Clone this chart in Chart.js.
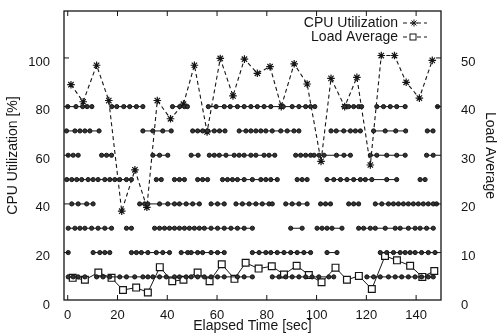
<!DOCTYPE html>
<html>
<head>
<meta charset="utf-8">
<script src="https://cdn.jsdelivr.net/npm/chart.js@4.4.0/dist/chart.umd.min.js"></script>
<style>
  html, body { margin: 0; padding: 0; background: #fff; }
  #chart { display: block; }
</style>
</head>
<body>
<canvas id="chart" width="502" height="336"></canvas>
<script>
// CPU utilization samples (left axis, %)
const cpuTime = [1.3, 6.2, 11.6, 16.5, 21.7, 27, 31.8, 36, 41.3, 46.5, 50.9, 56, 61.3, 66.4, 71, 76.2, 81.3, 85.8, 91, 96.2, 101.8, 105.8, 111.3, 116.2, 121.6, 126, 131.3, 136, 141.3, 146.5];
const cpuUtil = [89, 82, 97, 82.5, 37, 54, 38.6, 82.5, 75, 81, 97, 69.6, 99.8, 84.4, 99.5, 93.7, 96.4, 80, 97.6, 89.3, 57.5, 91.6, 80, 92, 56, 101, 101, 90, 83.5, 99];

// load average samples (right axis)
const loadTime = [2, 6.9, 12.3, 17.6, 22.2, 27.5, 32.2, 37, 42, 46.5, 52.2, 57, 61.9, 67, 71.5, 76.7, 82, 86.9, 92, 96.9, 102, 107.6, 112.2, 117, 122.2, 127.5, 132.3, 137.6, 142.5, 147.3];
const loadAvg = [4.8, 4.4, 5.9, 4.8, 2.3, 2.8, 1.8, 7.0, 4.1, 4.4, 5.9, 4.1, 7.6, 4.6, 7.9, 6.7, 7.2, 5.5, 7.3, 5.4, 3.9, 6.9, 4.4, 5.2, 2.5, 9.3, 8.4, 7.3, 5.0, 6.2];

// marker rows (null = gap)
const rowLevels = [10, 20, 30, 40, 50, 60, 70, 80];
const row10 = [0.2, 2.2, 4.2, 6.9, null, 11.6, 14.2, 16.9, 20.9, 23.6, 26.9, 30.2, 32.2, 34.2, 36.9, 39.6, 42.9, 44.9, 47.6, 49.6, 52.2, 54.9, 57.6, 60.2, 62.9, 68.2, 70.9, 74.2, null, 82.2, 84.9, 87.6, 90.2, 92.9, 95.6, 98.2, 100.9, 104.9, 106.9, null, 120.2, 122.9, 125.6, 128.9, 131.6, 134.2, 136.9, 139.6, 142.2, 144.9, 146.9];
const row20 = [0.2, null, 10.2, 12.9, 14.9, 16.9, null, 25.6, 27.6, 29.6, 32.2, 35.6, 38.2, 40.9, null, 45.6, 48.2, 49.6, 52.2, 54.2, 57.6, 60.2, 62.9, null, 74.2, 76.9, 79.6, 81.6, 84.2, 86.9, 89.6, 92.2, 94.9, 97.6, null, 104.2, 108.2, null, 125.6, 128.2, 130.9, 133.6, 135.6, 137.6, 139.6, 142.2, 144.9, 147.6];
const row30 = [0.2, 2.9, 4.9, 6.9, 9.6, 12.2, 14.9, 17.6, null, 23.6, 25.6, null, 34.9, 36.9, 38.9, 40.9, 42.9, 44.9, 46.9, 48.9, 50.9, 52.9, 54.9, 57.6, 60.2, 62.9, 65.6, 68.2, 70.9, 74.2, null, 89.6, 94.2, null, 100.2, 102.2, 104.2, 106.2, 110.2, null, 116.9, 118.9, 121.6, 123.6, 127.6, 131.6, 133.6, 136.9, 139.6, 141.6, 144.2, 146.9];
const row40 = [1.6, 4.2, 7.6, 10.2, null, 28.9, 30.9, 32.2, 36.9, 40.2, 42.9, 44.9, 47.6, 50.2, 52.9, null, 57.6, 60.2, 62.9, null, 67.6, 70.2, 72.9, 75.6, 78.2, 80.9, 82.2, null, 87.6, 90.2, 92.9, 96.2, null, 101.6, 103.6, 105.6, null, 112.9, 114.9, 116.9, null, 123.6, 126.2, 128.9, 130.9, 132.9, 134.9, 136.9, 138.9, 140.9, 142.9, 144.9, 146.9, 148.2];
const row50 = [-0.4, 1.6, 3.6, 5.6, 8.2, 10.2, 12.2, 14.9, 16.9, 18.9, 20.9, 23.6, 25.6, null, 35.6, 37.6, null, 42.9, 44.9, 46.9, null, 52.2, 54.2, 56.2, null, 62.2, 64.2, 66.2, 68.2, 70.9, 74.2, 77.6, 79.6, 81.6, 84.2, null, 92.2, 94.2, 96.2, null, 104.2, 106.9, 109.6, 112.2, 114.9, 117.6, 119.6, 122.2, 128.2, 132.2, null, 141.6, 143.6];
const row60 = [0.2, 2.2, 4.2, null, 13.6, 15.6, 17.6, null, 34.2, 36.9, 40.2, null, 49.6, 52.4, null, 56.9, 58.9, 60.9, 63.6, 66.9, 68.9, 70.9, 73.6, 75.6, 78.9, 80.9, 83.2, null, 91.6, 93.6, 95.6, 97.6, 99, 101, 103, 108, 111, 113.6, null, 121.6, 124.2, 128.2, 132.2, 135.6, null, 144.2, 146.9];
const row70 = [-0.5, 2.9, 4.9, 6.9, 8.9, 12.6, null, 30.2, 34.2, 38.2, 41.6, null, 50.2, 52.2, 54.2, 56.2, 58.9, 61, 63.2, null, 68.9, 71.6, 73.6, 75.6, 77.6, 79.6, 82.2, 85.6, 88.2, 90.9, 92.9, null, 105.8, 107.9, 110.9, 113.6, 115.6, 117.6, null, 122.9, 127.6, 131.8, 135.8, null, 144.5, 146.8];
const row80 = [0, 3.3, 6, 7.8, 9.7, null, 17.7, 19.7, 22.5, 24.9, 27.6, 30.2, null, 42.1, 45, 46.9, 48.1, null, 56.5, 59.6, 62.9, 65.3, 68.2, 70.9, 73.6, 76.2, 78.9, 81.6, 85.8, 86.6, 90.2, 92.9, 95.6, 97.6, 99.3, null, 111.3, 112.9, 114.9, 116.9, 118.1, null, 124.2, 126.9, 129.6, 132.2, 135.6, null, 148.6];
const rowTimes = [row10, row20, row30, row40, row50, row60, row70, row80];

const xTicks = [0, 20, 40, 60, 80, 100, 120, 140];
const cpuTicks = [0, 20, 40, 60, 80, 100];
const loadTicks = [0, 10, 20, 30, 40, 50];

const ink = "#151515";
const fontFamily = "'Liberation Sans', Arial, sans-serif";
Chart.defaults.font.family = fontFamily;
Chart.defaults.font.size = 13;
Chart.defaults.color = ink;

function rowPoints(times, level) {
  let pts = [];
  let last = 0;
  times.forEach((t) => {
    if (t === null) {
      pts.push({ x: last, y: null });
    } else {
      pts.push({ x: t, y: level });
      last = t;
    }
  });
  return pts;
}

let datasets = [];
rowLevels.forEach((level, i) => {
  datasets.push({
    data: rowPoints(rowTimes[i], level),
    yAxisID: "y",
    borderColor: ink,
    borderWidth: 1,
    backgroundColor: "#333",
    pointRadius: 2.1,
    pointBorderWidth: 1,
    pointBorderColor: ink,
    spanGaps: false,
  });
});

datasets.push({
  label: "Load Average",
  data: loadTime.map((t, i) => ({ x: t, y: loadAvg[i] })),
  yAxisID: "y2",
  borderColor: ink,
  borderWidth: 1,
  pointStyle: "rect",
  pointRadius: 4.8,
  pointBorderWidth: 1.2,
  pointBorderColor: ink,
  pointBackgroundColor: "#fff",
});

datasets.push({
  label: "CPU Utilization",
  data: cpuTime.map((t, i) => ({ x: t, y: cpuUtil[i] })),
  yAxisID: "y",
  borderColor: ink,
  borderWidth: 1.1,
  borderDash: [4, 3],
  pointStyle: "star",
  pointRadius: 3.8,
  pointBorderWidth: 1.2,
  pointBorderColor: ink,
});

function drawStar(ctx, x, y) {
  if (Chart.helpers && Chart.helpers.drawPoint) {
    Chart.helpers.drawPoint(ctx, { pointStyle: "star", radius: 3.5, rotation: 0, borderWidth: 1.2 }, x, y);
  }
}

function noPad(s) {
  s.paddingTop = 0;
  s.paddingBottom = 0;
  s.paddingLeft = 0;
  s.paddingRight = 0;
}

const framePlugin = {
  id: "frame",
  afterDatasetsDraw(chart) {
    const { ctx, chartArea: a, scales } = chart;
    ctx.save();
    ctx.strokeStyle = ink;
    ctx.lineWidth = 1.3;
    ctx.setLineDash([]);
    ctx.strokeRect(a.left, a.top, a.right - a.left, a.bottom - a.top);
    ctx.lineWidth = 1;
    ctx.beginPath();
    xTicks.forEach((v) => {
      const p = scales.x.getPixelForValue(v);
      ctx.moveTo(p, a.bottom);
      ctx.lineTo(p, a.bottom - 5);
      ctx.moveTo(p, a.top);
      ctx.lineTo(p, a.top + 5);
    });
    cpuTicks.forEach((v) => {
      const p = scales.y.getPixelForValue(v);
      if (p > a.bottom) return;
      ctx.moveTo(a.left, p);
      ctx.lineTo(a.left + 5, p);
    });
    loadTicks.forEach((v) => {
      const p = scales.y2.getPixelForValue(v);
      if (p > a.bottom) return;
      ctx.moveTo(a.right, p);
      ctx.lineTo(a.right - 5, p);
    });
    ctx.stroke();

    // legend in the top right corner
    ctx.font = "14px " + fontFamily;
    ctx.fillStyle = ink;
    ctx.textAlign = "right";
    ctx.textBaseline = "middle";
    ctx.fillText("CPU Utilization", 398, 23);
    ctx.fillText("Load Average", 398, 37);
    ctx.setLineDash([4, 3]);
    ctx.beginPath();
    ctx.moveTo(403, 23);
    ctx.lineTo(427, 23);
    ctx.moveTo(403, 37);
    ctx.lineTo(427, 37);
    ctx.stroke();
    ctx.setLineDash([]);
    ctx.strokeStyle = ink;
    ctx.fillStyle = ink;
    drawStar(ctx, 414, 23);
    ctx.fillStyle = "#fff";
    ctx.fillRect(410, 34, 6, 6);
    ctx.strokeRect(410, 34, 6, 6);
    ctx.restore();
  },
};

new Chart(document.getElementById("chart").getContext("2d"), {
  type: "line",
  data: { datasets: datasets },
  plugins: [framePlugin],
  options: {
    responsive: false,
    animation: false,
    devicePixelRatio: 1,
    layout: { padding: { top: 11, left: 0, right: 0, bottom: 0 } },
    plugins: {
      legend: { display: false },
      tooltip: { enabled: false },
    },
    scales: {
      x: {
        type: "linear",
        min: -1.5,
        max: 150,
        grid: { display: false },
        border: { display: false },
        afterBuildTicks: (s) => { s.ticks = xTicks.map((v) => ({ value: v })); },
        afterFit: (s) => { s.height = 36; noPad(s); },
        ticks: { padding: 0, maxRotation: 0, color: ink },
        title: { display: true, text: "Elapsed Time [sec]", font: { size: 14 }, padding: { top: 0, bottom: 1 }, color: ink },
      },
      y: {
        position: "left",
        min: 0.5,
        max: 119.3,
        grid: { display: false },
        border: { display: false },
        afterBuildTicks: (s) => { s.ticks = cpuTicks.map((v) => ({ value: v })); },
        afterFit: (s) => { s.width = 64; noPad(s); },
        ticks: { padding: 6, labelOffset: 4, color: ink },
        title: { display: true, text: "CPU Utilization [%]", font: { size: 14 }, padding: { top: 5, bottom: 0 }, color: ink },
      },
      y2: {
        position: "right",
        min: 0.25,
        max: 59.65,
        grid: { display: false },
        border: { display: false },
        afterBuildTicks: (s) => { s.ticks = loadTicks.map((v) => ({ value: v })); },
        afterFit: (s) => { s.width = 61; noPad(s); },
        ticks: { padding: 12, labelOffset: 4, color: ink },
        title: { display: true, text: "Load Average", font: { size: 14 }, padding: { top: 4, bottom: 0 }, color: ink },
      },
    },
  },
});
</script>
</body>
</html>
